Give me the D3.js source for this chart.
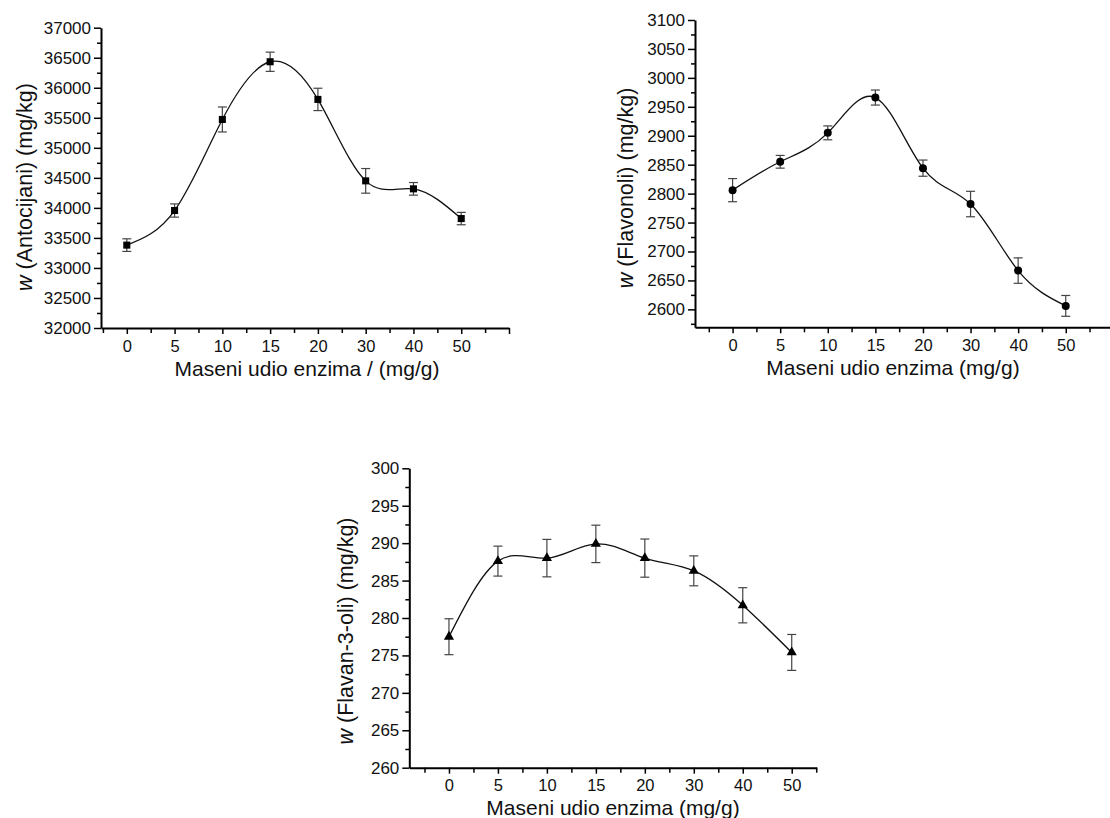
<!DOCTYPE html>
<html>
<head>
<meta charset="utf-8">
<script src="https://cdn.jsdelivr.net/npm/d3@7"></script>
<style>
  html, body { margin: 0; padding: 0; background: #fff; }
  svg { display: block; font-family: "Liberation Sans", Arial, sans-serif; }
</style>
</head>
<body>
<svg id="chart" width="1110" height="818"></svg>
<script>
// ---- data ----
const doses = ["0", "5", "10", "15", "20", "30", "40", "50"];

const antocijani    = [33380, 33956, 35472, 36433, 35806, 34450, 34317, 33822];
const antocijaniErr = [105, 110, 208, 160, 186, 205, 105, 103];

const flavonoli    = [2806, 2855, 2905, 2966, 2844, 2782, 2667, 2606];
const flavonoliErr = [20, 11, 12, 13, 14, 22, 22, 18];

const flavanoli    = [277.5, 287.6, 288.0, 289.9, 288.0, 286.3, 281.7, 275.4];
const flavanoliErr = [2.4, 2.0, 2.5, 2.5, 2.55, 2.0, 2.35, 2.4];

const antTicks = [32000, 32500, 33000, 33500, 34000, 34500, 35000, 35500, 36000, 36500, 37000];
const flvTicks = [2600, 2650, 2700, 2750, 2800, 2850, 2900, 2950, 3000, 3050, 3100];
const f3oTicks = [260, 265, 270, 275, 280, 285, 290, 295, 300];

const antTitle = "(Antocijani) (mg/kg)";
const flvTitle = "(Flavonoli) (mg/kg)";
const f3oTitle = "(Flavan-3-oli) (mg/kg)";
const xTitle1 = "Maseni udio enzima / (mg/g)";
const xTitle2 = "Maseni udio enzima (mg/g)";

// ---- layout ----
const panels = [
  { values: antocijani, errs: antocijaniErr, ticks: antTicks, minorStep: 250,
    yDomain: [32000, 37000], symbol: d3.symbolSquare, symSize: 50,
    xIdx: [-0.54, 8.0], left: 101, right: 509, top: 27.7, bottom: 328,
    yTitle: antTitle, yTitleX: 32, yTitleY: 187, xTitle: xTitle1, xTitleX: 307 },
  { values: flavonoli, errs: flavonoliErr, ticks: flvTicks, minorStep: 25,
    yDomain: [2569, 3100], symbol: d3.symbolCircle, symSize: 50,
    xIdx: [-0.79, 7.93], left: 695, right: 1110, top: 20, bottom: 327.3,
    yTitle: flvTitle, yTitleX: 633, yTitleY: 188, xTitle: xTitle2, xTitleX: 893 },
  { values: flavanoli, errs: flavanoliErr, ticks: f3oTicks, minorStep: 2.5,
    yDomain: [260, 300], symbol: d3.symbolTriangle, symSize: 45,
    xIdx: [-0.81, 7.51], left: 409.3, right: 816.7, top: 468.3, bottom: 767.7,
    yTitle: f3oTitle, yTitleX: 353, yTitleY: 631, xTitle: xTitle2, xTitleX: 613 }
];

const svg = d3.select("#chart");
svg.append("rect").attr("width", 1110).attr("height", 818).attr("fill", "#fff");

panels.forEach(p => {
  const x = d3.scaleLinear().domain(p.xIdx).range([p.left, p.right]);
  const y = d3.scaleLinear().domain(p.yDomain).range([p.bottom, p.top]);
  const g = svg.append("g");

  // x axis: minor + major ticks
  const xMinor = d3.range(-0.5, p.xIdx[1] + 1e-6, 0.5).filter(v => !Number.isInteger(v));
  const xMajor = d3.range(0, Math.floor(p.xIdx[1] + 1e-6) + 1, 1);
  g.append("g").attr("transform", `translate(0,${p.bottom})`)
    .call(d3.axisBottom(x).tickValues(xMinor).tickSize(5).tickSizeOuter(0).tickFormat(""))
    .call(s => s.select(".domain").attr("stroke-width", 2))
    .call(s => s.selectAll(".tick line").attr("stroke-width", 1.5));
  g.append("g").attr("transform", `translate(0,${p.bottom})`)
    .call(d3.axisBottom(x).tickValues(xMajor).tickSize(6).tickSizeOuter(0).tickPadding(6)
      .tickFormat(i => doses[i] !== undefined ? doses[i] : ""))
    .call(s => s.select(".domain").remove())
    .call(s => s.selectAll(".tick line").attr("stroke-width", 1.5))
    .call(s => s.selectAll(".tick text").attr("font-size", 16.5).attr("fill", "#111")
      .attr("font-family", "'Liberation Sans', Arial, sans-serif"));

  // y axis: minor + major ticks
  const minorVals = d3.range(p.ticks[0] - p.minorStep, p.yDomain[1] + 1e-6, p.minorStep)
    .filter(v => v >= p.yDomain[0] && !p.ticks.includes(v));
  g.append("g").attr("transform", `translate(${p.left},0)`)
    .call(d3.axisLeft(y).tickValues(minorVals).tickSize(4).tickSizeOuter(0).tickFormat(""))
    .call(s => s.select(".domain").attr("stroke-width", 2))
    .call(s => s.selectAll(".tick line").attr("stroke-width", 1.5));
  g.append("g").attr("transform", `translate(${p.left},0)`)
    .call(d3.axisLeft(y).tickValues(p.ticks).tickSize(7).tickSizeOuter(0).tickPadding(3)
      .tickFormat(d3.format("d")))
    .call(s => s.select(".domain").remove())
    .call(s => s.selectAll(".tick line").attr("stroke-width", 1.5))
    .call(s => s.selectAll(".tick text").attr("font-size", 17).attr("fill", "#111")
      .attr("font-family", "'Liberation Sans', Arial, sans-serif"));

  // curve
  const line = d3.line().curve(d3.curveNatural)
    .x((d, i) => x(i)).y(d => y(d));
  g.append("path").datum(p.values).attr("d", line)
    .attr("fill", "none").attr("stroke", "#111").attr("stroke-width", 1.3);

  // error bars
  const eb = g.append("g").attr("stroke", "#444").attr("stroke-width", 1.2).attr("fill", "none");
  p.values.forEach((v, i) => {
    const cx = x(i), y1 = y(v + p.errs[i]), y2 = y(v - p.errs[i]);
    eb.append("line").attr("x1", cx).attr("x2", cx).attr("y1", y1).attr("y2", y2);
    eb.append("line").attr("x1", cx - 4.5).attr("x2", cx + 4.5).attr("y1", y1).attr("y2", y1);
    eb.append("line").attr("x1", cx - 4.5).attr("x2", cx + 4.5).attr("y1", y2).attr("y2", y2);
  });

  // markers
  const sym = d3.symbol().type(p.symbol).size(p.symSize);
  g.append("g").selectAll("path").data(p.values).join("path")
    .attr("d", sym)
    .attr("transform", (d, i) => `translate(${x(i)},${y(d)})`)
    .attr("fill", "#000");

  // titles
  const yt = g.append("text")
    .attr("transform", `translate(${p.yTitleX},${p.yTitleY}) rotate(-90)`)
    .attr("text-anchor", "middle").attr("font-size", 21.5).attr("fill", "#111");
  yt.append("tspan").attr("font-style", "italic").text("w");
  yt.append("tspan").text(" " + p.yTitle);

  g.append("text")
    .attr("x", p.xTitleX).attr("y", p.bottom + 47.5)
    .attr("text-anchor", "middle").attr("font-size", 21).attr("fill", "#111")
    .text(p.xTitle);
});
</script>
</body>
</html>
